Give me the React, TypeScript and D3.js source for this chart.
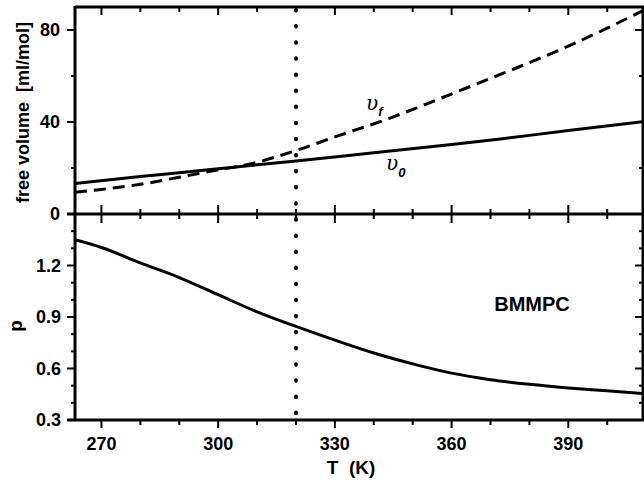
import React from "react";
import * as d3 from "d3";

const tempV0 = [263.2, 280, 290, 300, 310, 320, 340, 360, 372, 390, 409];
const v0Values = [13.3, 16.3, 17.9, 19.7, 21.4, 23.0, 26.6, 30.2, 32.5, 36.3, 40.1];
const tempVf = [263.2, 270, 280, 290, 300, 307, 320, 330, 344, 356, 369, 380, 390, 400, 409];
const vfValues = [9.4, 10.7, 12.9, 16.0, 19.2, 21.3, 27.6, 33.5, 41.6, 49.5, 58.3, 65.8, 73, 80.8, 88.3];
const tempP = [263.2, 270, 280, 290, 300, 310, 320, 330, 340, 350, 360, 370, 380, 390, 400, 409];
const pValues = [1.35, 1.305, 1.215, 1.13, 1.03, 0.93, 0.845, 0.765, 0.69, 0.627, 0.573, 0.535, 0.508, 0.487, 0.47, 0.455];

const xMajorTicks = [270, 300, 330, 360, 390];
const xMinorTicks = [280, 290, 310, 320, 340, 350, 370, 380, 400];
const vMajorTicks = [0, 40, 80];
const vMinorTicks = [20, 60];
const pMajorTicks = [0.3, 0.6, 0.9, 1.2];
const pMinorTicks = [0.4, 0.5, 0.7, 0.8, 1.0, 1.1, 1.3, 1.4];
const markerT = 320;
const sampleName = "BMMPC";

const W = 644;
const H = 480;
const L = 75;
const R = 643;
const TOP = 7;
const MID = 214;
const BOT = 420;

const FONT = "'Liberation Sans', Arial, Helvetica, sans-serif";

export default function App() {
  const x = d3.scaleLinear().domain([263.2, 409.2]).range([L, R]);
  const yv = d3.scaleLinear().domain([0, 90]).range([MID, TOP]);
  const yp = d3.scaleLinear().domain([0.3, 1.5]).range([BOT, MID]);

  const lineV0 = d3
    .line<number>()
    .x((_, i) => x(tempV0[i]))
    .y((d) => yv(d))
    .curve(d3.curveMonotoneX);
  const lineVf = d3
    .line<number>()
    .x((_, i) => x(tempVf[i]))
    .y((d) => yv(d))
    .curve(d3.curveMonotoneX);
  const lineP = d3
    .line<number>()
    .x((_, i) => x(tempP[i]))
    .y((d) => yp(d))
    .curve(d3.curveMonotoneX);

  const axisStroke = 3;
  const tickStroke = 2;

  return (
    <svg
      width={W}
      height={H}
      style={{ position: "absolute", left: 0, top: 0, background: "#fff" }}
      fontFamily={FONT}
    >
      <rect x={0} y={0} width={W} height={H} fill="#fff" />
      <defs>
        <clipPath id="upper">
          <rect x={L} y={TOP} width={R - L} height={MID - TOP} />
        </clipPath>
        <clipPath id="lower">
          <rect x={L} y={MID} width={R - L} height={BOT - MID} />
        </clipPath>
      </defs>

      {/* data lines */}
      <g clipPath="url(#upper)">
        <path d={lineV0(v0Values) || ""} fill="none" stroke="#000" strokeWidth={3} />
        <path
          d={lineVf(vfValues) || ""}
          fill="none"
          stroke="#000"
          strokeWidth={3}
          strokeDasharray="12,7"
        />
      </g>
      <g clipPath="url(#lower)">
        <path d={lineP(pValues) || ""} fill="none" stroke="#000" strokeWidth={3} />
      </g>

      {/* dotted marker */}
      <line
        x1={x(markerT)}
        x2={x(markerT)}
        y1={TOP + 3}
        y2={BOT}
        stroke="#000"
        strokeWidth={4}
        strokeLinecap="round"
        strokeDasharray="0.5,15.6"
      />

      {/* frames */}
      <line x1={L} x2={R + 2} y1={TOP} y2={TOP} stroke="#000" strokeWidth={axisStroke} />
      <line x1={L - 8} x2={R + 2} y1={MID} y2={MID} stroke="#000" strokeWidth={axisStroke} />
      <line x1={L - 8} x2={R + 2} y1={BOT} y2={BOT} stroke="#000" strokeWidth={axisStroke} />
      <line x1={L} x2={L} y1={TOP - 1} y2={BOT + 1} stroke="#000" strokeWidth={axisStroke} />
      <line x1={R} x2={R} y1={TOP - 1} y2={BOT + 1} stroke="#000" strokeWidth={axisStroke} />

      {/* x ticks */}
      {xMajorTicks.map((t) => (
        <g key={"xM" + t}>
          <line x1={x(t)} x2={x(t)} y1={TOP} y2={TOP + 8} stroke="#000" strokeWidth={tickStroke} />
          <line x1={x(t)} x2={x(t)} y1={MID - 9} y2={MID + 9} stroke="#000" strokeWidth={tickStroke} />
          <line x1={x(t)} x2={x(t)} y1={BOT} y2={BOT + 8} stroke="#000" strokeWidth={tickStroke} />
          <text
            x={x(t)}
            y={450}
            textAnchor="middle"
            fontSize={18}
            fontWeight="bold"
          >
            {t}
          </text>
        </g>
      ))}
      {xMinorTicks.map((t) => (
        <g key={"xm" + t}>
          <line x1={x(t)} x2={x(t)} y1={TOP} y2={TOP + 5} stroke="#000" strokeWidth={tickStroke} />
          <line x1={x(t)} x2={x(t)} y1={MID - 5} y2={MID + 5} stroke="#000" strokeWidth={tickStroke} />
          <line x1={x(t)} x2={x(t)} y1={BOT} y2={BOT + 5} stroke="#000" strokeWidth={tickStroke} />
        </g>
      ))}

      {/* upper y ticks */}
      {vMajorTicks.map((t) => (
        <g key={"vM" + t}>
          <line x1={L - 8} x2={L} y1={yv(t)} y2={yv(t)} stroke="#000" strokeWidth={tickStroke} />
          <line x1={R - 8} x2={R} y1={yv(t)} y2={yv(t)} stroke="#000" strokeWidth={tickStroke} />
          <text
            x={60}
            y={yv(t)}
            dy="0.36em"
            textAnchor="end"
            fontSize={18}
            fontWeight="bold"
          >
            {t}
          </text>
        </g>
      ))}
      {vMinorTicks.map((t) => (
        <g key={"vm" + t}>
          <line x1={L - 4} x2={L} y1={yv(t)} y2={yv(t)} stroke="#000" strokeWidth={tickStroke} />
          <line x1={R - 4} x2={R} y1={yv(t)} y2={yv(t)} stroke="#000" strokeWidth={tickStroke} />
        </g>
      ))}

      {/* lower y ticks */}
      {pMajorTicks.map((t) => (
        <g key={"pM" + t}>
          <line x1={L - 8} x2={L} y1={yp(t)} y2={yp(t)} stroke="#000" strokeWidth={tickStroke} />
          <line x1={R - 8} x2={R} y1={yp(t)} y2={yp(t)} stroke="#000" strokeWidth={tickStroke} />
          <text
            x={61}
            y={yp(t)}
            dy="0.36em"
            textAnchor="end"
            fontSize={18}
            fontWeight="bold"
          >
            {t.toFixed(1)}
          </text>
        </g>
      ))}
      {pMinorTicks.map((t) => (
        <g key={"pm" + t}>
          <line x1={L - 4} x2={L} y1={yp(t)} y2={yp(t)} stroke="#000" strokeWidth={tickStroke} />
          <line x1={R - 4} x2={R} y1={yp(t)} y2={yp(t)} stroke="#000" strokeWidth={tickStroke} />
        </g>
      ))}

      {/* axis titles */}
      <text
        transform={`translate(29,${(TOP + MID) / 2 + 2}) rotate(-90)`}
        textAnchor="middle"
        fontSize={18}
        fontWeight="bold"
        xmlSpace="preserve"
      >
        {"free volume  [ml/mol]"}
      </text>
      <text
        transform={`translate(22,${(MID + BOT) / 2 + 9}) rotate(-90)`}
        textAnchor="middle"
        fontSize={19}
        fontWeight="bold"
      >
        p
      </text>
      <text x={351} y={474} textAnchor="middle" fontSize={19} fontWeight="bold" xmlSpace="preserve">
        {"T  (K)"}
      </text>
      <text x={532} y={311} textAnchor="middle" fontSize={20} fontWeight="bold">
        {sampleName}
      </text>

      {/* curve labels */}
      <text x={366} y={110} fontSize={20} fontFamily="'DejaVu Serif', serif" fontStyle="italic">
        υ
        <tspan fontSize={13} dy={6} fontFamily={FONT} fontWeight="bold">
          f
        </tspan>
      </text>
      <text x={386} y={170} fontSize={20} fontFamily="'DejaVu Serif', serif" fontStyle="italic">
        υ
        <tspan fontSize={13} dy={7} fontFamily={FONT} fontWeight="bold">
          0
        </tspan>
      </text>
    </svg>
  );
}
